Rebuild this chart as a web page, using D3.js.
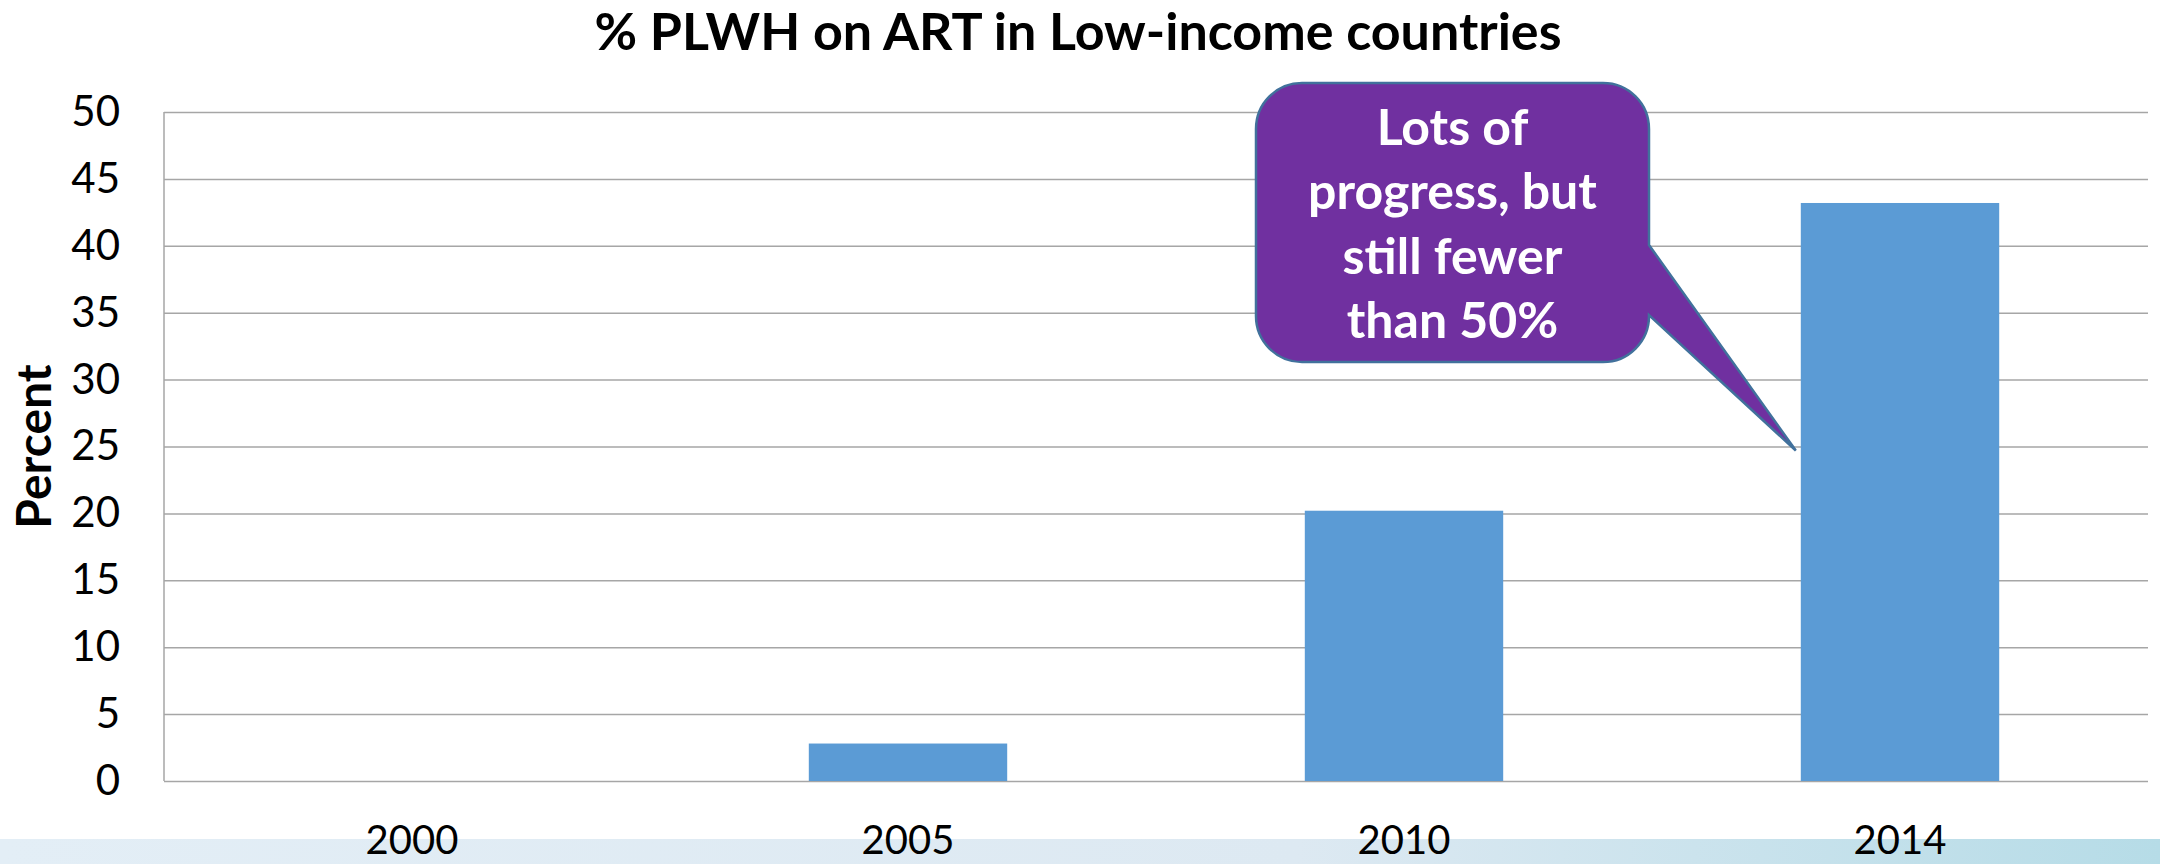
<!DOCTYPE html>
<html>
<head>
<meta charset="utf-8">
<script src="https://cdn.jsdelivr.net/npm/d3@7"></script>
<style>
  html, body { margin: 0; padding: 0; background: #fff; }
  svg { display: block; font-family: Lato, 'Open Sans', sans-serif; }
</style>
</head>
<body>
<div class="js-chart"></div>
<script>
'use strict';

// chart data
var years = ['2000', '2005', '2010', '2014'];
var percentOnArt = [0, 2.8, 20.2, 43.2];
var yTicks = [0, 5, 10, 15, 20, 25, 30, 35, 40, 45, 50];
var calloutLines = ['Lots of', 'progress, but', 'still fewer', 'than 50%'];

var W = 2160, H = 864;
var margin = { top: 112, right: 12, bottom: 83, left: 164 };
var plotW = W - margin.left - margin.right;
var plotH = H - margin.top - margin.bottom;

var svg = d3.select('.js-chart').append('svg')
    .attr('width', W)
    .attr('height', H);

//light blue strip along the bottom of the slide
var grad = svg.append('defs').append('linearGradient')
    .attr('id', 'strip')
    .attr('x1', '0%').attr('x2', '100%');
grad.append('stop').attr('offset', '0%').attr('stop-color', '#e3eef6');
grad.append('stop').attr('offset', '60%').attr('stop-color', '#dde9f2');
grad.append('stop').attr('offset', '100%').attr('stop-color', '#b6dce7');
svg.append('rect')
    .attr('x', 0).attr('y', 839)
    .attr('width', W).attr('height', H - 839)
    .style('fill', 'url(#strip)');

//title
svg.append('text')
    .attr('x', 1078)
    .attr('y', 50)
    .attr('text-anchor', 'middle')
    .style('font-size', '52px')
    .style('font-weight', 'bold')
    .text('% PLWH on ART in Low-income countries');

var vis = svg.append('g')
    .attr('transform', 'translate(' + margin.left + ',' + margin.top + ')');

var x = d3.scaleBand()
    .domain(years)
    .range([0, plotW])
    .paddingInner(0.6)
    .paddingOuter(0.3);

var y = d3.scaleLinear()
    .domain([0, 50])
    .range([plotH, 0]);

//horizontal gridlines
vis.append('g')
    .call(d3.axisLeft(y).tickValues(yTicks).tickSize(-plotW).tickFormat(''))
    .call(function (g) {
        g.select('.domain').remove();
        g.selectAll('line').style('stroke', '#a6a6a6').style('stroke-width', 1.5);
    });

//left axis line
vis.append('line')
    .attr('x1', 0).attr('x2', 0)
    .attr('y1', 0).attr('y2', plotH)
    .style('stroke', '#a6a6a6')
    .style('stroke-width', 1.5);

//y tick labels
vis.append('g')
    .call(d3.axisLeft(y).tickValues(yTicks).tickSize(0).tickPadding(44))
    .call(function (g) {
        g.select('.domain').remove();
        g.selectAll('text')
            .style('font-family', 'Lato, sans-serif')
            .style('font-size', '42px')
            .style('fill', '#000');
    });

//x tick labels
vis.append('g')
    .attr('transform', 'translate(0,' + plotH + ')')
    .call(d3.axisBottom(x).tickSize(0).tickPadding(45))
    .call(function (g) {
        g.select('.domain').remove();
        g.selectAll('text')
            .style('font-family', 'Lato, sans-serif')
            .style('font-size', '40px')
            .style('fill', '#000');
    });

//bars
vis.selectAll('.js-bar')
    .data(percentOnArt)
    .enter()
    .append('rect')
    .attr('class', 'js-bar')
    .attr('x', function (d, i) { return x(years[i]); })
    .attr('y', function (d) { return y(d); })
    .attr('width', x.bandwidth())
    .attr('height', function (d) { return plotH - y(d); })
    .style('fill', '#5b9bd5');

//y axis title
svg.append('text')
    .attr('transform', 'translate(51,' + (margin.top + plotH / 2) + ') rotate(-90)')
    .attr('text-anchor', 'middle')
    .style('font-size', '48px')
    .style('font-weight', 'bold')
    .text('Percent');

//callout bubble pointing at the 2014 bar
var box = { x: 1256, y: 83, w: 393, h: 279, r: 46 };
var tip = [x('2014') + margin.left - 5, y(24.7) + margin.top];
var attachTop = box.y + 162, attachBottom = box.y + 232;
var bx2 = box.x + box.w, by2 = box.y + box.h, r = box.r;
var bubble = d3.path();
bubble.moveTo(box.x + r, box.y);
bubble.lineTo(bx2 - r, box.y);
bubble.arcTo(bx2, box.y, bx2, box.y + r, r);
bubble.lineTo(bx2, attachTop);
bubble.lineTo(tip[0], tip[1]);
bubble.lineTo(bx2, attachBottom);
bubble.arcTo(bx2, by2, bx2 - r, by2, r);
bubble.lineTo(box.x + r, by2);
bubble.arcTo(box.x, by2, box.x, by2 - r, r);
bubble.lineTo(box.x, box.y + r);
bubble.arcTo(box.x, box.y, box.x + r, box.y, r);
bubble.closePath();

svg.append('path')
    .attr('d', bubble.toString())
    .style('fill', '#7030a0')
    .style('stroke', '#41719c')
    .style('stroke-width', 2.5)
    .style('stroke-linejoin', 'miter');

svg.append('g').selectAll('text')
    .data(calloutLines)
    .enter()
    .append('text')
    .attr('x', box.x + box.w / 2)
    .attr('y', function (d, i) { return 145 + i * 64.3; })
    .attr('text-anchor', 'middle')
    .style('font-size', '50px')
    .style('font-weight', 'bold')
    .style('fill', '#fff')
    .text(function (d) { return d; });
</script>
</body>
</html>
